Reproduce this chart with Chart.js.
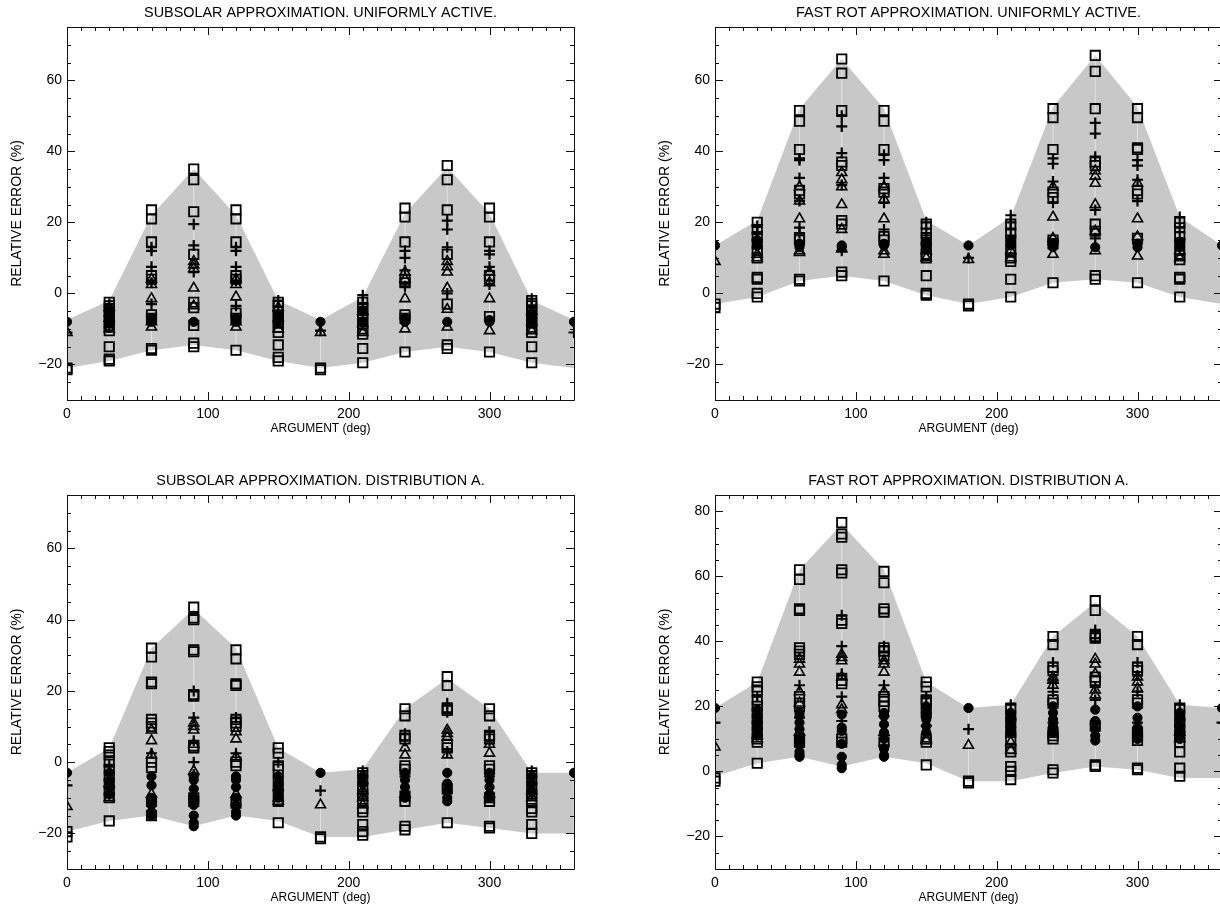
<!DOCTYPE html>
<html>
<head>
<meta charset="utf-8">
<script src="https://cdn.jsdelivr.net/npm/chart.js@4.4.1/dist/chart.umd.min.js"></script>
<style>
  html, body { margin:0; padding:0; background:#fff; overflow:hidden; width:1220px; height:915px; position:relative; }
  .panel { position:absolute; }
</style>
</head>
<body>
<div class="panel" style="left:0;top:0"><canvas id="c1" width="610" height="460"></canvas></div>
<div class="panel" style="left:648px;top:0"><canvas id="c2" width="610" height="460"></canvas></div>
<div class="panel" style="left:0;top:468px"><canvas id="c3" width="610" height="447"></canvas></div>
<div class="panel" style="left:648px;top:468px"><canvas id="c4" width="610" height="447"></canvas></div>
<script>
// argument values (deg), one column of points each
const ARG = [0, 30, 60, 90, 120, 150, 180, 210, 240, 270, 300, 330, 360];

// ---- subsolar approximation, uniformly active
const SS_UNI_HI = [-7.5, -2, 22, 35, 22, -2, -7.5, -1, 22.5, 35.5, 22.5, -2, -7.5];
const SS_UNI_LO = [-21, -19, -16, -14.5, -16, -19, -21, -19.5, -16.5, -15, -16.5, -19.5, -21];
const SS_UNI_SQUARE = [[-21, -21.5], [-2.5, -3.5, -5, -6, -7.5, -9, -10.5, -15, -18.5, -19], [23.5, 21, 14.5, 5, 4, -6, -7, -15.5, -16],
  [35, 32, 23, 11, -2.5, -4, -9, -14, -15], [23.5, 21, 14.5, 5, 4, -5.5, -7, -16], [-2.5, -3.5, -5, -6.5, -8, -9.5, -11, -14.5, -18, -19],
  [-21, -21.5], [-2.5, -4, -5.5, -7, -8.5, -10, -11.5, -15.5, -19.5], [24, 21.5, 14.5, 4, 3, -6, -7, -16.5],
  [36, 32, 23.5, 11, -3, -14.5, -15.5], [24, 21.5, 14.5, 5, 4, -6.5, -16.5], [-2, -3.5, -5, -6.5, -8, -9.5, -11, -15, -19.5], []];
const SS_UNI_PLUS = [[-11], [-3, -6.5, -9.5], [13, 12, 7.5, 3, -3], [19.5, 13.5, 6], [13, 12, 7.5, 3.5, -3.5], [-2, -5, -8], [-10.5],
  [-0.5, -3, -6], [12, 10, 6.5, 2], [20.5, 18, 13, 0], [12, 11, 7.5, 2.5], [-1.5, -4, -7], [-11]];
const SS_UNI_TRI = [[-11], [-4, -7, -10], [4, 2.5, -1.5, -8, -9.5], [9, 8, 7, 1.5, -3.5], [4, 2.5, -1, -8, -9.5], [-4, -7, -10], [-11],
  [-5, -8.5, -11], [6, 4, -1.5, -10], [9, 7.5, 6, 1.5, -4.5, -9.5], [6, 3, -1.5, -10.5], [-5, -8, -10.5], []];
const SS_UNI_DOT = [[-8], [-5, -8], [-7, -8], [-8], [-7, -8], [-6, -8], [-8], [-5, -8], [-7, -8], [-8], [-7.5, -8], [-6, -8], [-8]];

// ---- fast rot approximation, uniformly active
const FR_UNI_HI = [13.5, 20.5, 52, 66, 52, 20.5, 13.5, 21.5, 52.5, 67, 52.5, 21.5, 13.5];
const FR_UNI_LO = [-3, -1, 3.5, 5, 3.5, -0.5, -3, -1, 3, 4, 3, -1, -3];
const FR_UNI_SQUARE = [[-3, -4], [20, 18, 16, 14, 12, 10, 4.5, 4, 0, -1], [51.5, 48.5, 40.5, 29, 28, 15.5, 15, 4, 3.5],
  [66, 62, 51.5, 37, 36, 20.5, 19.5, 6, 5], [51.5, 48.5, 40.5, 29.5, 28.5, 16, 15, 3.5], [19.5, 17, 15, 13, 11, 10, 5, 0, -0.5],
  [-3, -3.5], [19.5, 17, 15, 12, 10, 9, 4, -1], [52, 49.5, 40.5, 28.5, 27, 15, 14, 3],
  [67, 62.5, 52, 37, 36, 19.5, 17.5, 5, 4], [52, 49.5, 41, 40.5, 29, 28, 15.5, 3], [20, 18.5, 16, 14, 11, 9.5, 4.5, 4, -1], []];
const FR_UNI_PLUS = [[], [19, 17, 15], [38, 37.5, 32.5, 26, 18.5, 17], [50, 47, 39.5, 30.5, 12], [39, 37.5, 32.5, 25.5, 18], [20, 17, 14], [10],
  [22, 20, 18], [38, 36.5, 31.5, 25.5], [48, 45, 38.5, 23.5, 15.5], [37.5, 36, 32, 26], [21.5, 18.5, 15.5], []];
const FR_UNI_TRI = [[9], [11, 10], [30, 26, 21, 12, 11.5], [34, 32, 30, 25, 18, 12.5], [30, 26.5, 21, 12, 11], [12, 10], [9.5],
  [12, 10], [30, 21.5, 15.5, 11], [34.5, 33, 31, 25, 17.5, 12], [31, 21, 16, 10.5], [12, 10], []];
const FR_UNI_DOT = [[13.5], [13.5, 15], [13, 14], [13, 13.5], [13.5, 14], [13, 14.5], [13.5], [13.5, 15], [13, 14], [13], [13, 14], [13, 14.5], [13.5]];

// ---- subsolar approximation, distribution A
const SS_A_HI = [-3, 4, 32, 43, 32, 4, -3, -2, 15, 23.5, 15, -3, -3];
const SS_A_LO = [-19.5, -16.5, -15, -18, -15, -16.5, -21, -21, -19, -17, -18.5, -20, -20];
const SS_A_SQUARE = [[-19.5, -21], [4, 3, 2, 0, -2, -4, -6, -8, -10, -16.5], [32, 29.5, 22.5, 22, 12, 11, 10, 0, -1.5, -11, -15],
  [43.5, 40.5, 40, 31.5, 31, 19, 18.5, 4.5, 4, -10, -11], [31.5, 29, 22, 21.5, 12, 11, 10, 0, -1, -11.5], [4, 2.5, -1, -2, -5, -8, -11, -17],
  [-21, -21.5], [-3, -5, -7, -9, -11, -13, -14, -17.5, -19.5, -20.5], [15, 13, 7.5, 6.5, -1, -2, -9.5, -11, -18, -19],
  [24, 21.5, 15, 14.5, 5, 4, -7.5, -17], [15, 13, 7.5, 6.5, -1, -2, -10, -11, -18, -18.5], [-3, -5, -7, -9, -11, -13, -14, -17.5, -20], []];
const SS_A_PLUS = [[-6.5], [-1, -5, -9], [2.5, -11], [20, 12.5, 6, 0, -3.5], [12.5, 2.5, -12], [0, -4, -8], [-8],
  [-2.5, -6, -9], [8, 6, -4], [16.5, 14, 3], [8.5, 6, -4], [-2.5, -6, -9], []];
const SS_A_TRI = [[-12.5], [-6, -10], [9, 6, 2, -9], [11, 10, 9, 5, -2.5], [8.5, 6.5, 1.5, -9], [-7, -10, -11], [-12],
  [-8, -10, -12], [4, 2, -9], [9, 8, 7, 2], [5, 2.5, -9], [-8, -10], []];
const SS_A_DOT = [[-3], [-3, -5, -7, -9], [-4, -6.5, -10, -12, -14, -15], [-4, -5, -7.5, -10, -12, -15, -17, -18],
  [-4, -5, -7, -10, -12, -14, -15], [-4, -6, -8, -10], [-3], [-4, -6], [-3, -5, -7, -9, -10], [-3, -6, -8, -10, -11],
  [-3, -5, -7, -9, -10], [-4, -6, -8], [-3]];

// ---- fast rot approximation, distribution A
const FR_A_HI = [19.5, 27.5, 62, 76, 62, 27.5, 19.5, 20.5, 41.5, 52, 41.5, 20.5, 19.5];
const FR_A_LO = [-1.5, 2.5, 4.5, 1.5, 4.5, 2.5, -3, -3, -0.5, 1.5, 0.5, -2, -2];
const FR_A_SQUARE = [[-2, -3], [27.5, 26, 25, 22, 20, 18, 16, 14, 12, 10, 9, 2.5], [62, 59, 50, 49.5, 38, 37, 36, 23, 21, 20, 10, 9],
  [76.5, 73, 72, 62, 61, 46.5, 45.5, 28, 27, 10, 9], [61.5, 58, 50, 49, 38, 37, 35.5, 23, 21.5, 20, 9], [27.5, 26, 22, 21, 18, 10, 9, 2],
  [-3, -3.5], [19.5, 17, 15, 12, 10, 7, 6, 1.5, 0, -2.5], [41.5, 39, 32, 31, 22, 21, 12, 11, 10, 0.5, -0.5],
  [52.5, 49.5, 41.5, 41, 29, 28, 14, 2, 1.5], [41.5, 39, 32, 31, 22, 21, 12, 11, 9.5, 1, 0.5], [19.5, 17, 15, 13, 11, 9, 6, 1, -1.5], []];
const FR_A_PLUS = [[15], [23, 19, 15], [26.5, 16.5, 8], [48, 38.5, 30, 23, 15.5], [38.5, 26.5, 17, 8], [23, 18, 14], [13],
  [20.5, 16, 12], [33.5, 27.5, 24.5, 15], [43.5, 41, 26, 22, 14.5], [33.5, 29.5, 24.5, 15], [20.5, 16, 12], [15]];
const FR_A_TRI = [[7.5], [10, 11], [34.5, 33, 30.5, 24.5, 21, 12], [36, 35, 34, 29, 20.5, 19], [34, 33, 30.5, 24.5, 12], [9.5, 10], [8],
  [6.5, 9], [29, 28, 26.5], [34.5, 33, 30, 25, 23.5], [29, 27.5, 25.5], [10, 12], []];
const FR_A_DOT = [[19.5], [11, 13, 15, 17, 19], [18, 17, 15, 13, 10, 8, 6, 5, 4.5], [17.5, 13.5, 12.5, 8.5, 4.5, 2, 1],
  [18, 17, 14.5, 12, 10, 7, 5, 4.5], [12, 14, 16, 18, 20], [19.5], [12, 14, 16, 18], [12, 14, 16, 18, 20],
  [19, 15.5, 13, 11, 9.5], [20, 16.5, 13.5, 11, 10], [10, 12, 14, 16, 18], [19.5]];

Chart.defaults.font.family = "'Liberation Sans', Arial, sans-serif";
Chart.defaults.color = '#000';

function pts(cols) {
  var out = [];
  cols.forEach(function(col, i) {
    col.forEach(function(v) { out.push({x: ARG[i], y: v}); });
  });
  return out;
}

function minus(v) {
  return v < 0 ? '\u2212' + Math.abs(v) : '' + v;
}

// box around the plot + inward ticks on all four sides (IDL style)
var boxTicks = {
  id: 'boxTicks',
  afterDatasetsDraw: function(chart) {
    var ctx = chart.ctx, a = chart.chartArea, x = chart.scales.x, y = chart.scales.y;
    ctx.save();
    ctx.strokeStyle = '#111';
    ctx.lineWidth = 1;
    ctx.beginPath();
    ctx.rect(Math.round(a.left) + 0.5, Math.round(a.top) + 0.5, Math.round(a.right - a.left), Math.round(a.bottom - a.top));
    for (var v = 0; v <= 360; v += 10) {
      var px = Math.round(x.getPixelForValue(v)) + 0.5;
      var len = v % 100 === 0 ? 8 : 4;
      ctx.moveTo(px, a.bottom); ctx.lineTo(px, a.bottom - len);
      ctx.moveTo(px, a.top); ctx.lineTo(px, a.top + len);
    }
    for (var w = y.min; w <= y.max; w += 5) {
      var py = Math.round(y.getPixelForValue(w)) + 0.5;
      var l2 = w % 20 === 0 ? 8 : 4;
      ctx.moveTo(a.left, py); ctx.lineTo(a.left + l2, py);
      ctx.moveTo(a.right, py); ctx.lineTo(a.right - l2, py);
    }
    ctx.stroke();
    ctx.restore();
  }
};

function panel(id, title, ymax, hi, lo, sq, plus, tri, dot, padBottom) {
  var cols = [];
  ARG.forEach(function(x, i) {
    cols.push({x: x, y: lo[i]}, {x: x, y: hi[i]}, {x: x, y: null});
  });
  new Chart(document.getElementById(id), {
    type: 'scatter',
    data: {
      datasets: [
        { type: 'line', data: ARG.map(function(x, i) { return {x: x, y: hi[i]}; }),
          borderColor: 'rgba(0,0,0,0)', borderWidth: 1, pointRadius: 0, fill: '+1', backgroundColor: '#c8c8c8', order: 20 },
        { type: 'line', data: ARG.map(function(x, i) { return {x: x, y: lo[i]}; }),
          borderColor: 'rgba(0,0,0,0)', borderWidth: 1, pointRadius: 0, fill: false, order: 21 },
        { type: 'line', data: cols, borderColor: '#e2e2e2', borderWidth: 1, pointRadius: 0, spanGaps: false, fill: false, order: 15 },
        { data: pts(sq), pointStyle: 'rect', pointRadius: 6.6, borderColor: '#000', borderWidth: 1.8,
          backgroundColor: 'rgba(0,0,0,0)', clip: 0, order: 3 },
        { data: pts(tri), pointStyle: 'triangle', pointRadius: 5.8, borderColor: '#000', borderWidth: 1.6,
          backgroundColor: 'rgba(0,0,0,0)', clip: 0, order: 2 },
        { data: pts(plus), pointStyle: 'cross', pointRadius: 5.5, borderColor: '#000', borderWidth: 2.2, clip: 0, order: 1 },
        { data: pts(dot), pointStyle: 'circle', pointRadius: 4.6, borderColor: '#000', borderWidth: 1,
          backgroundColor: '#000', clip: 0, order: 0 }
      ]
    },
    options: {
      responsive: false,
      animation: false,
      events: [],
      layout: { padding: { left: 0, right: 36, top: 0, bottom: padBottom } },
      plugins: {
        legend: { display: false },
        tooltip: { enabled: false },
        title: { display: true, text: title, fullSize: false, color: '#000',
                 font: { size: 14.4, weight: 'normal' }, padding: { top: 4, bottom: 5.7 } }
      },
      scales: {
        x: {
          type: 'linear', min: 0, max: 360,
          grid: { display: false, drawTicks: false },
          border: { display: false },
          ticks: { stepSize: 100, padding: 6, maxRotation: 0, autoSkip: false, font: { size: 14 }, color: '#000' },
          afterBuildTicks: function(s) { s.ticks = s.ticks.filter(function(t) { return t.value % 100 === 0; }); },
          afterFit: function(s) { s.height = 37; },
          title: { display: true, text: 'ARGUMENT (deg)', color: '#000', font: { size: 12 }, padding: { top: 0, bottom: 1 } }
        },
        y: {
          type: 'linear', min: -30, max: ymax,
          grid: { display: false, drawTicks: false },
          border: { display: false },
          ticks: { stepSize: 20, padding: 5, font: { size: 14 }, color: '#000', callback: function(v) { return minus(v); } },
          afterBuildTicks: function(s) { s.ticks = s.ticks.filter(function(t) { return t.value % 20 === 0; }); },
          afterFit: function(s) { s.width = 67; },
          title: { display: true, text: 'RELATIVE ERROR (%)', color: '#000', font: { size: 14 }, padding: { top: 9, bottom: 0 } }
        }
      }
    },
    plugins: [boxTicks]
  });
}

panel('c1', 'SUBSOLAR APPROXIMATION. UNIFORMLY ACTIVE.', 75, SS_UNI_HI, SS_UNI_LO, SS_UNI_SQUARE, SS_UNI_PLUS, SS_UNI_TRI, SS_UNI_DOT, 23);
panel('c2', 'FAST ROT APPROXIMATION. UNIFORMLY ACTIVE.', 75, FR_UNI_HI, FR_UNI_LO, FR_UNI_SQUARE, FR_UNI_PLUS, FR_UNI_TRI, FR_UNI_DOT, 23);
panel('c3', 'SUBSOLAR APPROXIMATION. DISTRIBUTION A.', 75, SS_A_HI, SS_A_LO, SS_A_SQUARE, SS_A_PLUS, SS_A_TRI, SS_A_DOT, 9);
panel('c4', 'FAST ROT APPROXIMATION. DISTRIBUTION A.', 85, FR_A_HI, FR_A_LO, FR_A_SQUARE, FR_A_PLUS, FR_A_TRI, FR_A_DOT, 9);
</script>
</body>
</html>
